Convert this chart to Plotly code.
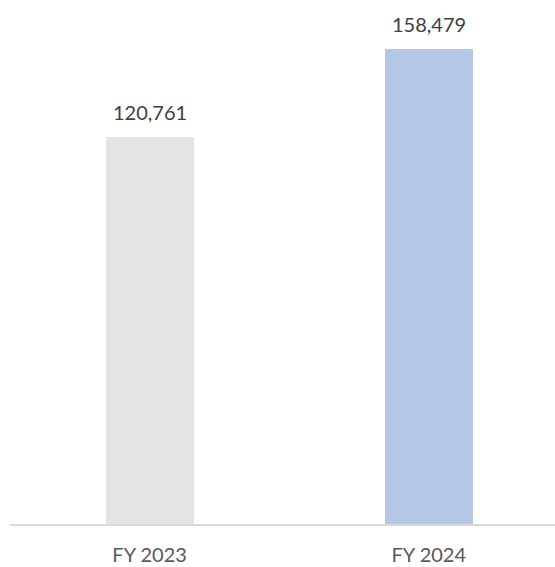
import plotly.graph_objects as go

# Fiscal year totals
categories = ["FY 2023", "FY 2024"]
values = [120761, 158479]
bar_colors = ["#e4e4e4", "#b4c7e7"]
value_labels = [f"{v:,}" for v in values]

# Value axis floor (bars rise from the axis floor, not from zero)
y_floor = -46380
y_ceiling = 179755

fig = go.Figure()
fig.add_trace(go.Bar(
    x=categories,
    y=[v - y_floor for v in values],
    base=[y_floor] * len(values),
    marker=dict(color=bar_colors, line=dict(width=0)),
    width=0.315,
    hoverinfo="skip",
))

for cat, v, lab in zip(categories, values, value_labels):
    fig.add_annotation(
        x=cat, y=v, text=lab, showarrow=False,
        yanchor="bottom", yshift=11,
        font=dict(family="Lato", size=20, color="#404040"),
    )

fig.update_layout(
    width=555, height=567,
    margin=dict(l=10, r=0, t=0, b=43),
    paper_bgcolor="white", plot_bgcolor="white",
    showlegend=False,
    bargap=0,
    xaxis=dict(
        range=[-0.5, 1.452],
        showline=True, linecolor="#d9d9d9", linewidth=2,
        showgrid=False, ticks="",
        ticklabelstandoff=12,
        tickfont=dict(family="Lato", size=20, color="#595959"),
    ),
    yaxis=dict(
        range=[y_floor, y_ceiling],
        visible=False, showgrid=False, zeroline=False,
    ),
)

fig.write_html("out.html")
